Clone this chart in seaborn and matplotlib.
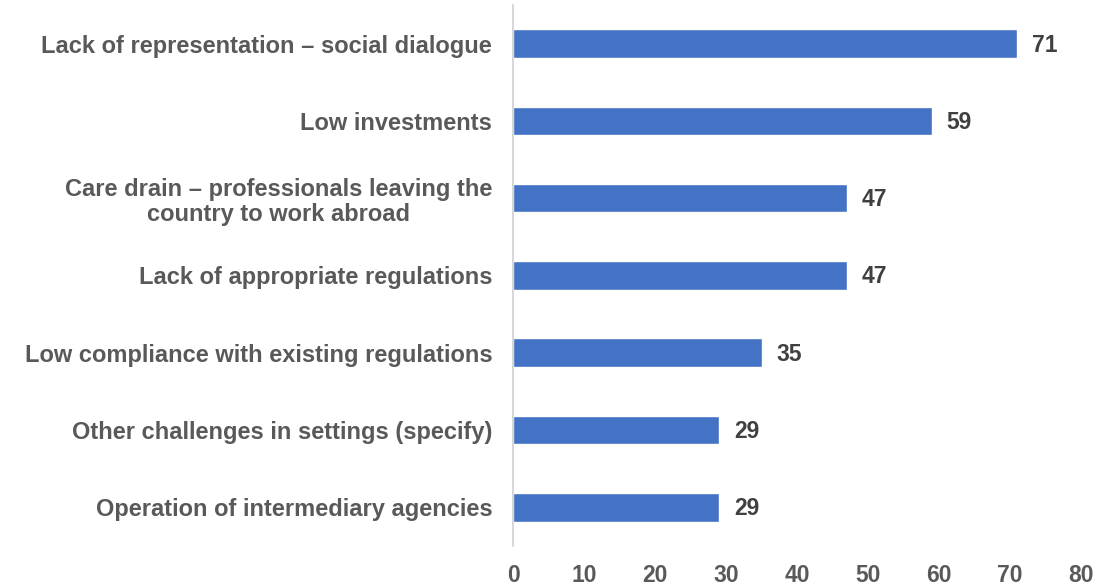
import matplotlib
matplotlib.use("Agg")
import matplotlib.pyplot as plt
import seaborn as sns
import pandas as pd

categories = [
    "Lack of representation \u2013 social dialogue",
    "Low investments",
    "Care drain \u2013 professionals leaving the\ncountry to work abroad",
    "Lack of appropriate regulations",
    "Low compliance with existing regulations",
    "Other challenges in settings (specify)",
    "Operation of intermediary agencies",
]
values = [71, 59, 47, 47, 35, 29, 29]
x_ticks = [0, 10, 20, 30, 40, 50, 60, 70, 80]

df = pd.DataFrame({"challenge": categories, "share": values})

sns.set_style("white")
plt.rcParams["font.family"] = ["Liberation Sans", "DejaVu Sans"]

fig, ax = plt.subplots(figsize=(11.19, 5.87), dpi=100)
fig.subplots_adjust(left=0.4585, right=0.966, top=0.9915, bottom=0.07)

sns.barplot(data=df, x="share", y="challenge", color="#4472C4",
            width=0.37, saturation=1, ax=ax)

for i, v in enumerate(values):
    ax.text(v + 2.1, i + 0.02, str(v), va="center", ha="left",
            fontsize=16.5, fontweight="bold", color="#404040")

ax.set_xlim(0, 80)
ax.set_ylim(6.5, -0.5)
ax.set_xticks(x_ticks)
ax.set_xticklabels([str(t) for t in x_ticks], fontsize=16.5,
                   fontweight="bold", color="#595959")
ax.set_yticklabels(categories, fontsize=17, fontweight="bold",
                   color="#595959", linespacing=1.15)
for lab in ax.get_yticklabels():
    lab.set_multialignment("center")
ax.tick_params(axis="x", length=0, pad=13)
ax.tick_params(axis="y", length=0, pad=15)
ax.set_xlabel("")
ax.set_ylabel("")

for s in ["top", "right", "bottom"]:
    ax.spines[s].set_visible(False)
ax.spines["left"].set_color("#D0D0D0")
ax.spines["left"].set_linewidth(1.2)

fig.savefig("out.png", dpi=100)
